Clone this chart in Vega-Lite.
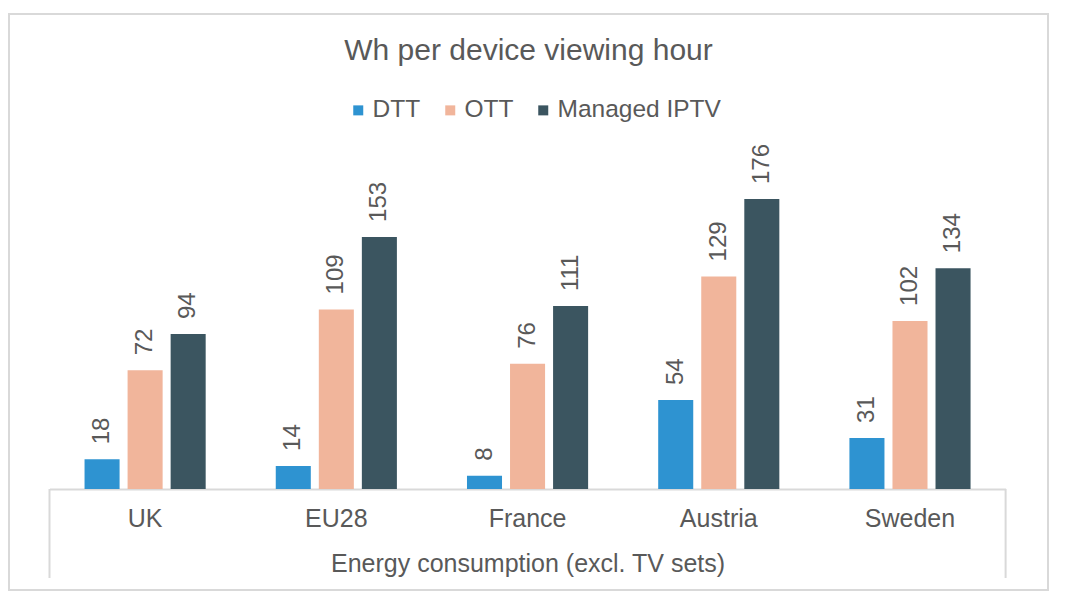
{
  "$schema": "https://vega.github.io/schema/vega-lite/v6.json",
  "autosize": {"type": "none"},
  "width": 1039,
  "height": 576,
  "padding": {"left": 9, "top": 14, "right": 21, "bottom": 21},
  "background": "white",
  "title": {
    "text": "Wh per device viewing hour",
    "fontSize": 30,
    "fontWeight": "normal",
    "font": "Liberation Sans",
    "color": "#595959",
    "anchor": "middle",
    "frame": "group",
    "baseline": "alphabetic",
    "offset": -76
  },
  "config": {
    "font": "Liberation Sans",
    "view": {"stroke": "#d9d9d9", "strokeWidth": 2}
  },
  "data": {
    "values": [
      {"country": "UK", "series": "DTT", "value": 18},
      {"country": "UK", "series": "OTT", "value": 72},
      {"country": "UK", "series": "Managed IPTV", "value": 94},
      {"country": "EU28", "series": "DTT", "value": 14},
      {"country": "EU28", "series": "OTT", "value": 109},
      {"country": "EU28", "series": "Managed IPTV", "value": 153},
      {"country": "France", "series": "DTT", "value": 8},
      {"country": "France", "series": "OTT", "value": 76},
      {"country": "France", "series": "Managed IPTV", "value": 111},
      {"country": "Austria", "series": "DTT", "value": 54},
      {"country": "Austria", "series": "OTT", "value": 129},
      {"country": "Austria", "series": "Managed IPTV", "value": 176},
      {"country": "Sweden", "series": "DTT", "value": 31},
      {"country": "Sweden", "series": "OTT", "value": 102},
      {"country": "Sweden", "series": "Managed IPTV", "value": 134}
    ]
  },
  "layer": [
    {
      "mark": {"type": "bar"},
      "encoding": {
        "x": {
          "field": "country",
          "type": "nominal",
          "sort": ["UK", "EU28", "France", "Austria", "Sweden"],
          "scale": {"range": [40.5, 996.6], "paddingInner": 0, "paddingOuter": 0},
          "axis": {
            "orient": "bottom",
            "offset": -101,
            "title": "Energy consumption (excl. TV sets)",
            "titleFontSize": 25,
            "titleFontWeight": "normal",
            "titleColor": "#595959",
            "titlePadding": 20,
            "labelFontSize": 25,
            "labelColor": "#595959",
            "labelAngle": 0,
            "labelPadding": 17,
            "ticks": false,
            "domainColor": "#d9d9d9",
            "domainWidth": 2,
            "grid": false
          }
        },
        "xOffset": {
          "field": "series",
          "type": "nominal",
          "sort": ["DTT", "OTT", "Managed IPTV"],
          "scale": {"paddingInner": 0.186, "paddingOuter": 0.814}
        },
        "y": {
          "field": "value",
          "type": "quantitative",
          "scale": {"domain": [0, 176], "range": [475, 185], "nice": false, "zero": true},
          "axis": null
        },
        "color": {
          "field": "series",
          "type": "nominal",
          "sort": ["DTT", "OTT", "Managed IPTV"],
          "scale": {"domain": ["DTT", "OTT", "Managed IPTV"], "range": ["#2E93D1", "#F1B59B", "#3B5560"]},
          "legend": {
            "orient": "none",
            "direction": "horizontal",
            "legendX": 337,
            "legendY": 84,
            "title": null,
            "symbolType": "square",
            "symbolSize": 100,
            "symbolStrokeWidth": 0,
            "labelFontSize": 24.5,
            "labelColor": "#595959",
            "labelOffset": 2,
            "labelLimit": 400,
            "columnPadding": 17
          }
        }
      }
    },
    {
      "mark": {"type": "text", "angle": 270, "align": "left", "baseline": "middle", "dx": 15, "fontSize": 24, "color": "#595959"},
      "encoding": {
        "x": {"field": "country", "type": "nominal", "sort": ["UK", "EU28", "France", "Austria", "Sweden"]},
        "xOffset": {"field": "series", "type": "nominal", "sort": ["DTT", "OTT", "Managed IPTV"]},
        "y": {"field": "value", "type": "quantitative"},
        "text": {"field": "value", "type": "quantitative"}
      }
    },
    {
      "transform": [{"filter": "datum.country === 'UK' && datum.series === 'DTT'"}],
      "mark": {"type": "rule", "color": "#d9d9d9", "strokeWidth": 2},
      "encoding": {
        "x": {"field": "country", "type": "nominal", "sort": ["UK", "EU28", "France", "Austria", "Sweden"], "bandPosition": 0},
        "y": {"datum": 0},
        "y2": {"datum": -54}
      }
    },
    {
      "transform": [{"filter": "datum.country === 'Sweden' && datum.series === 'DTT'"}],
      "mark": {"type": "rule", "color": "#d9d9d9", "strokeWidth": 2},
      "encoding": {
        "x": {"field": "country", "type": "nominal", "sort": ["UK", "EU28", "France", "Austria", "Sweden"], "bandPosition": 1},
        "y": {"datum": 0},
        "y2": {"datum": -54}
      }
    }
  ]
}
